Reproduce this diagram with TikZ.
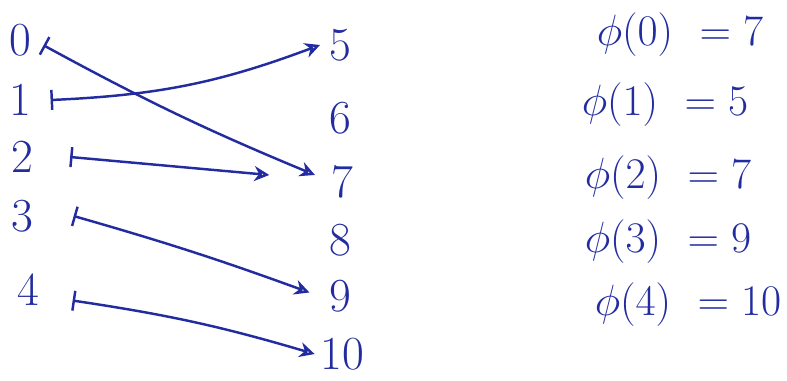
\documentclass[tikz,border=0pt]{standalone}
\usepackage{amsmath,amssymb}
\usetikzlibrary{arrows.meta,positioning}
\definecolor{inkBlue}{RGB}{34,44,160}

\begin{document}
\begin{tikzpicture}[
    x=0.02cm,y=-0.02cm,
    num/.style={font=\fontsize{27}{30}\selectfont,text=inkBlue,inner sep=1pt},
    eqn/.style={font=\fontsize{27}{30}\selectfont,text=inkBlue,inner sep=1pt},
    maps/.style={{Bar[width=4mm]}-{Stealth[length=3mm,width=3mm,open]},line width=1.4pt,inkBlue}
  ]
  \useasboundingbox (0,0) rectangle (787,380);
  % domain
  \node[num] (l0) at (20,40) {0};
  \node[num] (l1) at (20,100) {1};
  \node[num] (l2) at (22,157) {2};
  \node[num] (l3) at (22,216) {3};
  \node[num] (l4) at (28,290) {4};
  % codomain
  \node[num] (r5) at (340,45) {5};
  \node[num] (r6) at (340,118) {6};
  \node[num] (r7) at (342,182) {7};
  \node[num] (r8) at (340,240) {8};
  \node[num] (r9) at (340,296) {9};
  \node[num] (r10) at (342,354) {10};
  % arrows
  \draw[maps] ([xshift=6pt,yshift=-3pt]l0.east) to[bend right=3] ([xshift=-8pt,yshift=4pt]r7.west);
  \draw[maps] ([xshift=10pt]l1.east) to[bend right=9] ([xshift=-4pt]r5.west);
  \draw[maps] ([xshift=20pt]l2.east) -- ([xshift=-34pt,yshift=4pt]r7.west);
  \draw[maps] ([xshift=22pt]l3.east) to[bend left=2] ([xshift=-10pt,yshift=2pt]r9.west);
  \draw[maps] ([xshift=18pt,yshift=-6pt]l4.east) to[bend left=4] ([xshift=-2pt]r10.west);
  % values
  \foreach \i/\v/\x/\y in {0/7/680/35,1/5/665/105,2/7/668/178,3/9/668/242,4/10/688/305}{
    \node[eqn] (eq\i) at (\x,\y) {$\phi(\i)\ =\v$};
  }
\end{tikzpicture}
\end{document}
